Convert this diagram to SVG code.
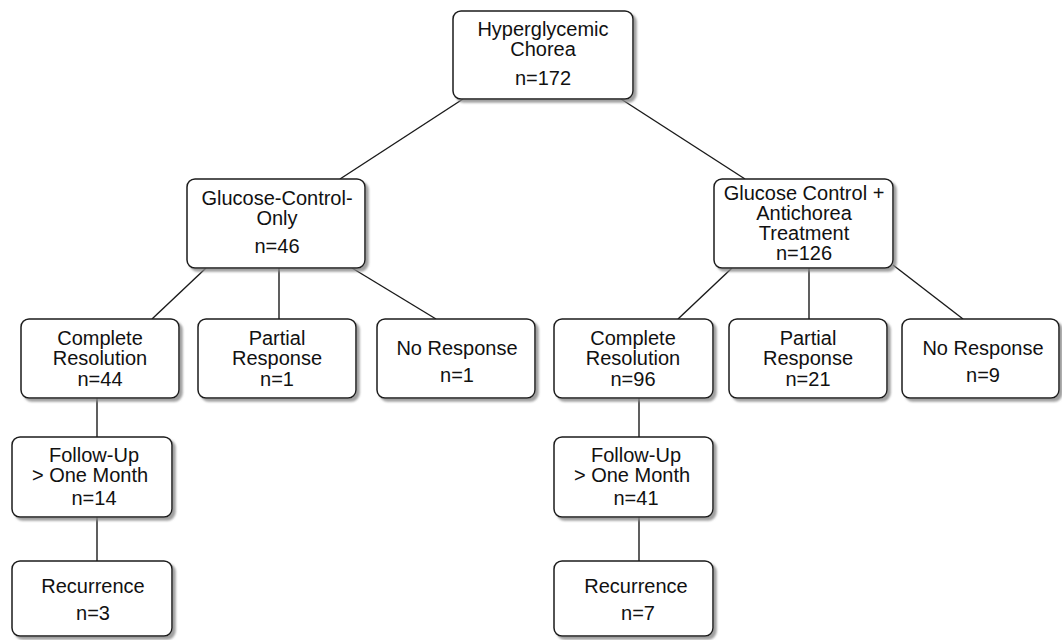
<svg xmlns="http://www.w3.org/2000/svg" width="1062" height="640" viewBox="0 0 1062 640">
<style>
.box{fill:#fff;stroke:#1a1a1a;stroke-width:1.5;filter:url(#sh)}
.t{font-family:"Liberation Sans",Arial,sans-serif;font-size:20px;fill:#111;text-anchor:middle}
.c{stroke:#1a1a1a;stroke-width:1.4;fill:none}
</style>
<defs>
<filter id="sh" x="-10%" y="-10%" width="130%" height="130%">
<feDropShadow dx="3" dy="3" stdDeviation="1" flood-color="#888" flood-opacity="0.8"/>
</filter>
</defs>
<rect width="1062" height="640" fill="#fff"/>
<g id="connectors">
<line class="c" x1="463" y1="99" x2="340" y2="179"/>
<line class="c" x1="621" y1="99" x2="745" y2="179"/>
<line class="c" x1="206" y1="268" x2="152" y2="319"/>
<line class="c" x1="279" y1="268" x2="279" y2="319"/>
<line class="c" x1="352" y1="268" x2="436" y2="319"/>
<line class="c" x1="732" y1="268" x2="678" y2="319"/>
<line class="c" x1="809" y1="268" x2="809" y2="319"/>
<line class="c" x1="893" y1="265" x2="963" y2="319"/>
<line class="c" x1="97" y1="398" x2="97" y2="437"/>
<line class="c" x1="97" y1="517" x2="97" y2="561"/>
<line class="c" x1="639" y1="398" x2="639" y2="437"/>
<line class="c" x1="639" y1="517" x2="639" y2="561"/>
</g>
<g id="n-root">
<rect class="box" x="453" y="11" width="180" height="88" rx="8"/>
<text class="t" x="543" y="36">Hyperglycemic</text>
<text class="t" x="543" y="56">Chorea</text>
<text class="t" x="543" y="85">n=172</text>
</g>
<g id="n-gco">
<rect class="box" x="187" y="179" width="178" height="89" rx="8"/>
<text class="t" x="277" y="205">Glucose-Control-</text>
<text class="t" x="277" y="225">Only</text>
<text class="t" x="277" y="253">n=46</text>
</g>
<g id="n-gca">
<rect class="box" x="714" y="179" width="179" height="89" rx="8"/>
<text class="t" x="804" y="200">Glucose Control +</text>
<text class="t" x="804" y="220">Antichorea</text>
<text class="t" x="804" y="240">Treatment</text>
<text class="t" x="804" y="260">n=126</text>
</g>
<g id="n-cr1">
<rect class="box" x="21" y="319" width="158" height="79" rx="8"/>
<text class="t" x="100" y="345">Complete</text>
<text class="t" x="100" y="365">Resolution</text>
<text class="t" x="100" y="386">n=44</text>
</g>
<g id="n-pr1">
<rect class="box" x="198" y="319" width="158" height="79" rx="8"/>
<text class="t" x="277" y="345">Partial</text>
<text class="t" x="277" y="365">Response</text>
<text class="t" x="277" y="386">n=1</text>
</g>
<g id="n-nr1">
<rect class="box" x="377" y="319" width="158" height="79" rx="8"/>
<text class="t" x="457" y="355">No Response</text>
<text class="t" x="457" y="382">n=1</text>
</g>
<g id="n-cr2">
<rect class="box" x="554" y="319" width="159" height="79" rx="8"/>
<text class="t" x="633" y="345">Complete</text>
<text class="t" x="633" y="365">Resolution</text>
<text class="t" x="633" y="386">n=96</text>
</g>
<g id="n-pr2">
<rect class="box" x="729" y="319" width="158" height="79" rx="8"/>
<text class="t" x="808" y="345">Partial</text>
<text class="t" x="808" y="365">Response</text>
<text class="t" x="808" y="386">n=21</text>
</g>
<g id="n-nr2">
<rect class="box" x="902" y="319" width="157" height="79" rx="8"/>
<text class="t" x="983" y="355">No Response</text>
<text class="t" x="983" y="382">n=9</text>
</g>
<g id="n-fu1">
<rect class="box" x="12" y="437" width="160" height="80" rx="8"/>
<text class="t" x="94" y="462">Follow-Up</text>
<text class="t" x="90" y="482">&gt; One Month</text>
<text class="t" x="94" y="505">n=14</text>
</g>
<g id="n-fu2">
<rect class="box" x="554" y="437" width="159" height="80" rx="8"/>
<text class="t" x="636" y="462">Follow-Up</text>
<text class="t" x="632" y="482">&gt; One Month</text>
<text class="t" x="636" y="505">n=41</text>
</g>
<g id="n-re1">
<rect class="box" x="12" y="561" width="160" height="75" rx="8"/>
<text class="t" x="93" y="593">Recurrence</text>
<text class="t" x="93" y="620">n=3</text>
</g>
<g id="n-re2">
<rect class="box" x="554" y="561" width="159" height="75" rx="8"/>
<text class="t" x="636" y="593">Recurrence</text>
<text class="t" x="638" y="620">n=7</text>
</g>
</svg>
